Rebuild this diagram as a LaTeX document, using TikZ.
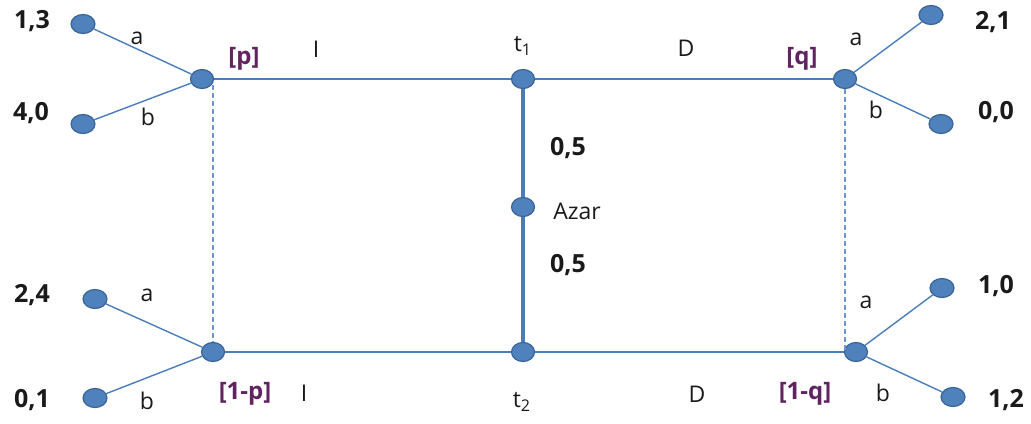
\documentclass[tikz,border=0pt]{standalone}
\usepackage{fontspec}
\setmainfont{Open Sans}
\usepackage{xcolor}
\usepackage{tikz}
\usetikzlibrary{shapes.geometric}
\definecolor{nodeblue}{HTML}{4F81BD}
\definecolor{darkblue}{HTML}{3A6496}
\definecolor{lineblue}{HTML}{4A7EBB}
\definecolor{purple}{HTML}{602460}
\definecolor{ink}{HTML}{1A1A1A}

\begin{document}
\begin{tikzpicture}[
  x=0.5pt, y=-0.5pt,
  font=\fontsize{11.5}{13}\selectfont,
  dot/.style={
    ellipse,
    draw=darkblue,
    fill=nodeblue,
    line width=0.6pt,
    inner sep=0pt,
    minimum width=11.5pt,
    minimum height=9.5pt
  },
  leaf/.style={dot,minimum width=12pt},
  pay/.style={font=\fontsize{12.5}{14}\selectfont\bfseries,text=ink},
  prob/.style={font=\fontsize{12}{14}\selectfont\bfseries,text=purple},
  lbl/.style={text=ink},
  edge/.style={draw=lineblue,line width=0.7pt},
  path/.style={draw=lineblue,line width=1.1pt},
  chance/.style={draw=lineblue,line width=2pt},
  info/.style={draw=lineblue!80,line width=0.7pt,dash pattern=on 2.5pt off 1.5pt}
]
\useasboundingbox (0,0) rectangle (1031,423);

% middle chance move
\node[dot] (t1) at (523,79) {};
\node[dot] (azar) at (523,207) {};
\node[dot] (t2) at (523,352) {};
\draw[chance] (t1) -- (azar);
\draw[chance] (azar) -- (t2);

% decision nodes
\node[dot] (p) at (202,79) {};
\node[dot] (pp) at (213,352) {};
\node[dot] (q) at (845,79) {};
\node[dot] (qq) at (856,352) {};
\draw[path] (t1) -- (p);
\draw[path] (t1) -- (q);
\draw[path] (t2) -- (pp);
\draw[path] (t2) -- (qq);
\draw[info] (p -| pp) ++(0,6) -- (pp);
\draw[info] (q) -- (q |- qq);

% terminal nodes
\node[leaf] (l13) at (83,24) {};
\node[leaf] (l40) at (83,124) {};
\node[leaf] (l24) at (95,299) {};
\node[leaf] (l01) at (95,398) {};
\node[leaf] (l21) at (931,15) {};
\node[leaf] (l00) at (941,124) {};
\node[leaf] (l10) at (942,288) {};
\node[leaf] (l12) at (953,397) {};
\draw[edge] (p) -- (l13);
\draw[edge] (p) -- (l40);
\draw[edge] (pp) -- (l24);
\draw[edge] (pp) -- (l01);
\draw[edge] (q) -- (l21);
\draw[edge] (q) -- (l00);
\draw[edge] (qq) -- (l10);
\draw[edge] (qq) -- (l12);

% payoffs
\node[pay] (v13) at (32,21) {1,3};
\node[pay] (v40) at (31,113) {4,0};
\node[pay] (v24) at (32,295) {2,4};
\node[pay] (v01) at (32,400) {0,1};
\node[pay] (v21) at (993,22) {2,1};
\node[pay] (v00) at (996,112) {0,0};
\node[pay] (v10) at (996,286) {1,0};
\node[pay] (v12) at (1006,400) {1,2};

% actions
\node[lbl] (a1) at (137,38) {a};
\node[lbl] (b1) at (148,117) {b};
\node[lbl] (a2) at (147,295) {a};
\node[lbl] (b2) at (147,401) {b};
\node[lbl] (a3) at (856,39) {a};
\node[lbl] (b3) at (876,110) {b};
\node[lbl] (a4) at (866,302) {a};
\node[lbl] (b4) at (883,393) {b};
\node[lbl] (i1) at (316,49) {I};
\node[lbl] (i2) at (304,393) {I};
\node[lbl] (d1) at (686,48) {D};
\node[lbl] (d2) at (697,394) {D};

% beliefs
\node[prob] (bp) at (244,59) {[p]};
\node[prob] (bpp) at (245,394) {[1-p]};
\node[prob] (bq) at (802,59) {[q]};
\node[prob] (bqq) at (805,394) {[1-q]};

% chance labels
\node[lbl] (tt1) at (523,46) {t\textsubscript{1}};
\node[lbl] (tt2) at (522,402) {t\textsubscript{2}};
\node[pay] (h1) at (568,148) {0,5};
\node[pay] (h2) at (568,265) {0,5};
\node[lbl] (az) at (577,211) {Azar};
\end{tikzpicture}
\end{document}
